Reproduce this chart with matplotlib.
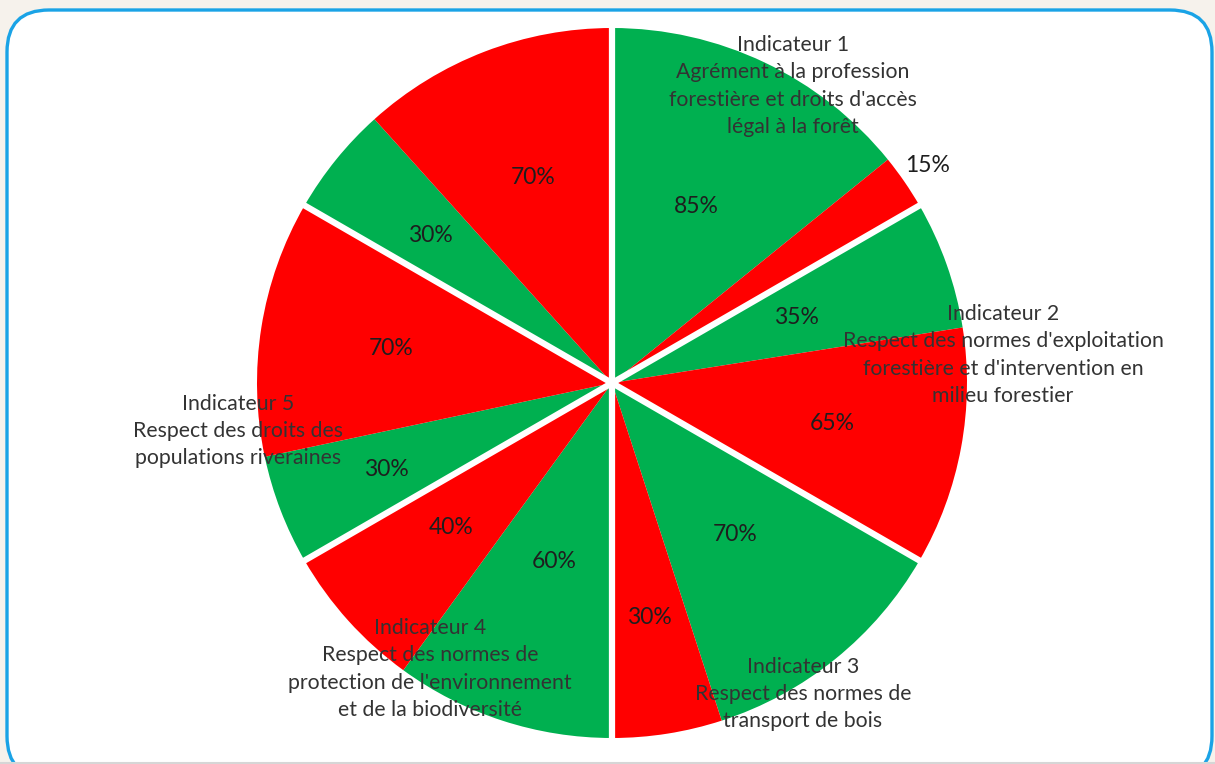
import matplotlib
matplotlib.use("Agg")
import matplotlib.pyplot as plt
from matplotlib.patches import FancyBboxPatch
import numpy as np

# ---- data ----
sectors = ["Indicateur 1", "Indicateur 2", "Indicateur 3", "Indicateur 4", "Indicateur 5", "Indicateur 6"]
green_pct = [85, 35, 70, 60, 30, 30]   # first part (clockwise) of each sector
red_pct = [15, 65, 30, 40, 70, 70]     # second part
indicator_labels = [
    "Indicateur 1\nAgrément à la profession\nforestière et droits d'accès\nlégal à la forêt",
    "Indicateur 2\nRespect des normes d'exploitation\nforestière et d'intervention en\nmilieu forestier",
    "Indicateur 3\nRespect des normes de\ntransport de bois",
    "Indicateur 4\nRespect des normes de\nprotection de l'environnement\net de la biodiversité",
    "Indicateur 5\nRespect des droits des\npopulations riveraines",
    None,
]

# ---- layout / style ----
W, H = 1215, 764
GREEN = "#00b050"
RED = "#ff0000"
TXT = "#1e1e1e"
label_pos = [(793, 86), (1003, 355), (803, 694), (430, 669), (238, 431), None]  # pixel coords (top-left origin)
pct_dist = [0.55, 1.08, 0.55, 0.63, 0.55, 0.67, 0.53, 0.61, 0.68, 0.63, 0.66, 0.62]
FONT = "Lato"
FS_PCT = 16.5
FS_LAB = 15.3

fig = plt.figure(figsize=(W / 100, H / 100), dpi=100)
fig.patch.set_facecolor("#f6f2ec")
ax = fig.add_axes([0, 0, 1, 1])

# frame
frame = FancyBboxPatch((7, -14), 1205, 768, boxstyle="round,pad=0,rounding_size=42",
                       facecolor="white", edgecolor="#1aa3e6", linewidth=2.4, zorder=0)
ax.add_patch(frame)
ax.plot([0, W], [1.5, 1.5], color="#d6d6d6", lw=1.5, zorder=0.5)

cx, cy, R = 612, H - 383, 355
vals, cols, vals_norm = [], [], []
nsec = len(sectors)
for g, r in zip(green_pct, red_pct):
    tot = g + r
    vals += [g, r]
    cols += [GREEN, RED]
    vals_norm += [g / tot / nsec, r / tot / nsec]

wedges, _ = ax.pie(vals_norm, colors=cols, startangle=90, counterclock=False,
                   center=(cx, cy), radius=R, normalize=False, frame=True,
                   wedgeprops=dict(linewidth=0))
ax.set_xlim(0, W)
ax.set_ylim(0, H)
ax.set_aspect("equal")
ax.axis("off")

# percentage labels
for w, v, d in zip(wedges, vals, pct_dist):
    mid = np.deg2rad((w.theta1 + w.theta2) / 2)
    ax.text(cx + d * R * np.cos(mid), cy + d * R * np.sin(mid), f"{v}%",
            ha="center", va="center", fontsize=FS_PCT, color=TXT, family=FONT, zorder=5)

# separators between sectors
for i in range(nsec):
    ang = np.deg2rad(90 - i * 360 / nsec)
    ax.plot([cx, cx + R * 1.01 * np.cos(ang)], [cy, cy + R * 1.01 * np.sin(ang)],
            color="white", lw=4.5, solid_capstyle="butt", zorder=4)

# indicator labels
for lab, pos in zip(indicator_labels, label_pos):
    if lab is None:
        continue
    ax.text(pos[0], H - pos[1], lab, ha="center", va="center", fontsize=FS_LAB,
            color="#333333", family=FONT, linespacing=1.45, zorder=6)

fig.savefig("out.png", dpi=100, facecolor=fig.get_facecolor())
